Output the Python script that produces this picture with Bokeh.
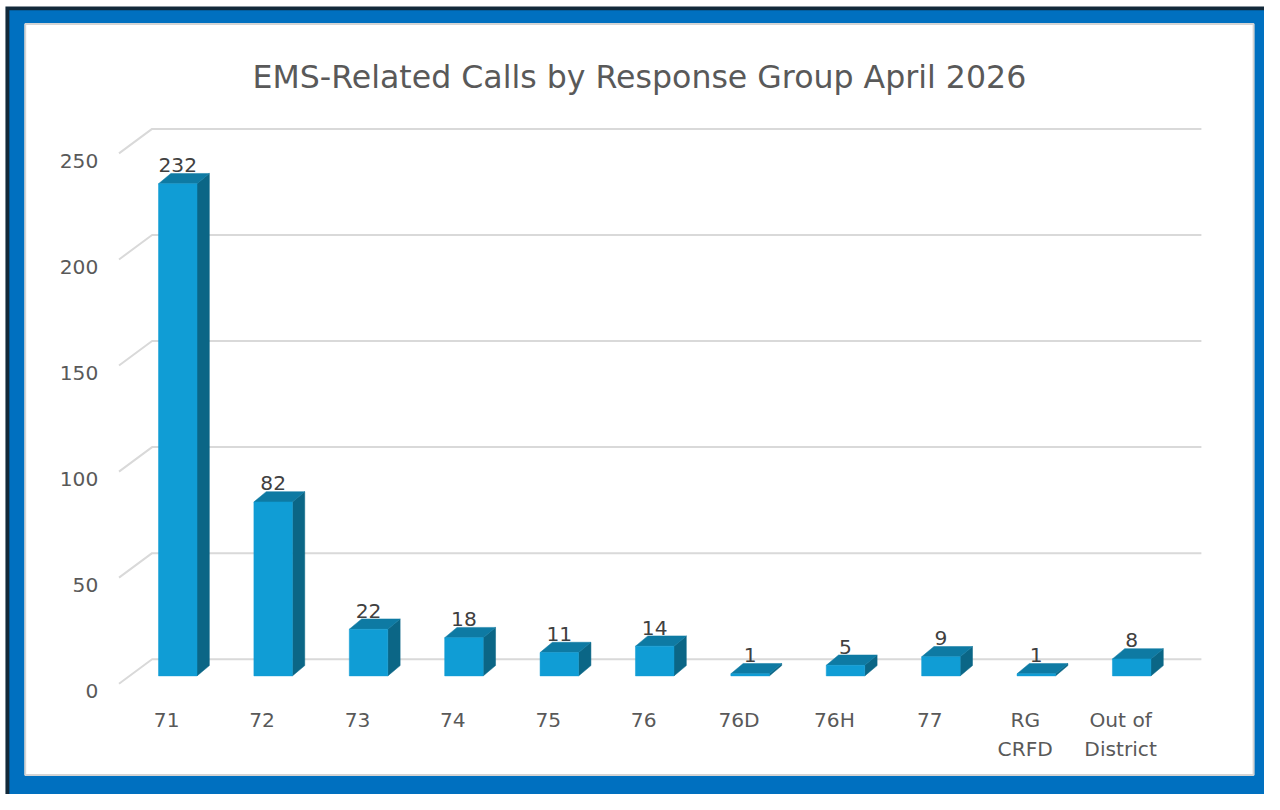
from bokeh.plotting import figure
from bokeh.models import Range1d
from bokeh.embed import file_html
from bokeh.resources import INLINE
from bokeh.core.properties import value

# ---------------- data ----------------
categories = ["71", "72", "73", "74", "75", "76", "76D", "76H", "77", "RG\nCRFD", "Out of\nDistrict"]
calls = [232, 82, 22, 18, 11, 14, 1, 5, 9, 1, 8]
y_ticks = [0, 50, 100, 150, 200, 250]
title_text = "EMS-Related Calls by Response Group April 2026"

# ---------------- layout constants (reference pixels, 1280 x 810 canvas) ----------------
W, H = 1264, 794
REF_W, REF_H = 1280, 810
SC = W / REF_W
PXU = 96.6                               # ref px per category
PYU = 2.164                              # ref px per call
X0 = 168.3                               # ref px of category 0 centre (floor front)
Y0 = 697.0                               # ref px of value 0 (floor front)
FLOOR_DX, FLOOR_DY = 33.5, 25.0          # floor depth
BAR_OFF_DX, BAR_OFF_DY = 11.2, 8.0       # bar front set back from floor front
BAR_DX, BAR_DY = 12.5, 10.5              # bar depth
BAR_W = 39.0
FONT = value("DejaVu Sans")
TEXT_COL = "#595959"
LABEL_COL = "#404040"
LBL_SIZE = f"{20.5 * SC:.1f}px"
TITLE_SIZE = f"{32 * SC:.1f}px"


def X(px):
    return (px - X0) / PXU


def Y(py):
    return (Y0 - py) / PYU


def xu(px):
    return px / PXU


def yu(px):
    return px / PYU


p = figure(width=W, height=H, output_backend="svg", toolbar_location=None,
           x_range=Range1d(X(0), X(REF_W)), y_range=Range1d(Y(REF_H), Y(0)),
           min_border=0, x_axis_location=None, y_axis_location=None)
p.border_fill_color = "white"
p.background_fill_color = "white"
p.outline_line_color = None
p.grid.visible = False

# ---------------- chart border (dark edge, blue frame, white panel) ----------------
p.quad(left=[X(5)], right=[X(1290)], top=[Y(6)], bottom=[Y(820)],
       fill_color="#12293A", line_color=None)
p.quad(left=[X(9)], right=[X(1290)], top=[Y(10)], bottom=[Y(820)],
       fill_color="#0070C0", line_color=None)
p.quad(left=[X(25)], right=[X(1269)], top=[Y(24)], bottom=[Y(790)],
       fill_color="white", line_color="#D4D4D4", line_width=2)

# ---------------- 3D gridlines ----------------
n = len(categories)
gx, gy = [], []
for t in y_ticks:
    gx.append([-0.5, -0.5 + xu(FLOOR_DX), n - 0.5 + xu(FLOOR_DX)])
    gy.append([t, t + yu(FLOOR_DY), t + yu(FLOOR_DY)])
p.multi_line(gx, gy, line_color="#D9D9D9", line_width=2)

# ---------------- 3D bars ----------------
front_l, front_r, front_b, front_t = [], [], [], []
side_x, side_y, top_x, top_y = [], [], [], []
lab_x, lab_y, lab_t = [], [], []
for i, v in enumerate(calls):
    cx = i + xu(BAR_OFF_DX)
    x0 = cx - xu(BAR_W) / 2
    x1 = cx + xu(BAR_W) / 2
    yb = yu(BAR_OFF_DY)
    yt = yb + v
    ddx, ddy = xu(BAR_DX), yu(BAR_DY)
    front_l.append(x0); front_r.append(x1); front_b.append(yb); front_t.append(yt)
    side_x.append([x1, x1 + ddx, x1 + ddx, x1])
    side_y.append([yb, yb + ddy, yt + ddy, yt])
    top_x.append([x0, x1, x1 + ddx, x0 + ddx])
    top_y.append([yt, yt, yt + ddy, yt + ddy])
    lab_x.append(cx)
    lab_y.append(yt + ddy + yu(8.5))
    lab_t.append(str(v))

p.patches(side_x, side_y, fill_color="#0B6686", line_color="#0B6686", line_width=0.5)
p.patches(top_x, top_y, fill_color="#0E7AA3", line_color="#0E7AA3", line_width=0.5)
p.quad(left=front_l, right=front_r, bottom=front_b, top=front_t,
       fill_color="#109DD5", line_color="#109DD5", line_width=0.5)

# data labels
p.text(x=lab_x, y=lab_y, text=lab_t, text_align="center", text_baseline="alphabetic",
       text_font=FONT, text_font_size=LBL_SIZE, text_color=LABEL_COL)

# ---------------- title ----------------
p.text(x=[X(647)], y=[Y(77.7)], text=[title_text],
       text_align="center", text_baseline="alphabetic",
       text_font=FONT, text_font_size=TITLE_SIZE, text_color=TEXT_COL)

# ---------------- value axis labels (front plane) ----------------
p.text(x=[X(99)] * len(y_ticks), y=[t - yu(7.7) for t in y_ticks],
       text=[str(t) for t in y_ticks], text_align="right", text_baseline="alphabetic",
       text_font=FONT, text_font_size=LBL_SIZE, text_color=TEXT_COL)

# ---------------- category axis labels (one text per line) ----------------
cx_l, cy_l, ct_l = [], [], []
for i, c in enumerate(categories):
    for k, line in enumerate(c.split("\n")):
        cx_l.append(i)
        cy_l.append(Y(734 + 30 * k))
        ct_l.append(line)
p.text(x=cx_l, y=cy_l, text=ct_l, text_align="center", text_baseline="alphabetic",
       text_font=FONT, text_font_size=LBL_SIZE, text_color=TEXT_COL)

open("out.html", "w").write(file_html(p, INLINE))
